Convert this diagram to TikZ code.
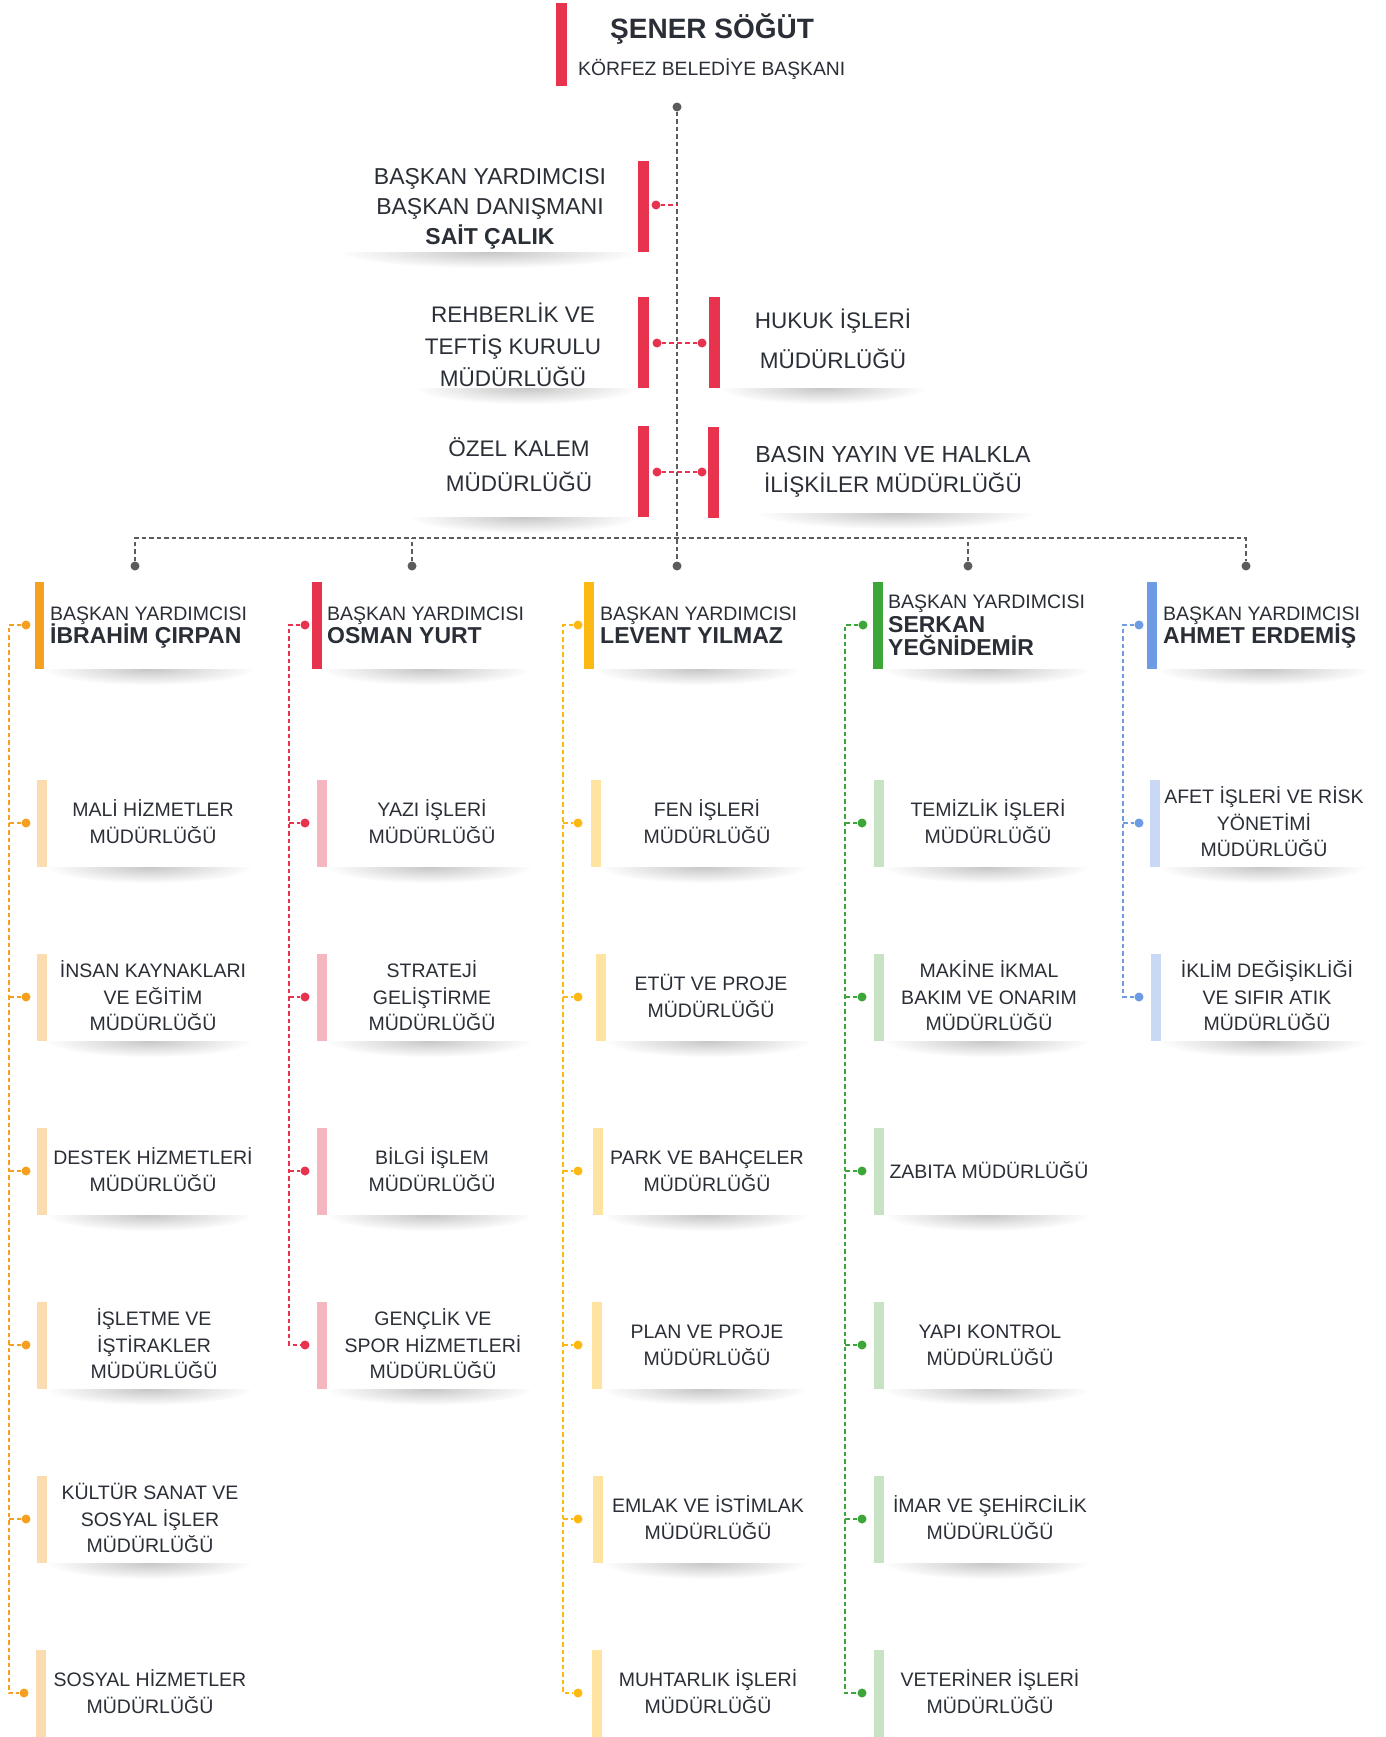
\documentclass[tikz,border=0pt]{standalone}
\usepackage{fontspec}
\setmainfont{Liberation Sans}
\usetikzlibrary{fadings,calc}
\definecolor{ink}{HTML}{2A2E36}
\definecolor{cred}{HTML}{E8334E}
\definecolor{lred}{HTML}{F5B6BF}
\definecolor{corg}{HTML}{F5A11F}
\definecolor{lorg}{HTML}{FBDCB0}
\definecolor{cyel}{HTML}{FDB913}
\definecolor{lyel}{HTML}{FFE4A1}
\definecolor{cgrn}{HTML}{3DA639}
\definecolor{lgrn}{HTML}{C7E3C4}
\definecolor{cblu}{HTML}{6E9CE4}
\definecolor{lblu}{HTML}{C9D8F4}
\definecolor{cgry}{HTML}{5C5C5C}
\colorlet{shc}{black!22}
\tikzfading[name=shfade, inner color=transparent!0, outer color=transparent!100]

\tikzset{
  bar/.style={rectangle, fill=#1, draw=none, inner sep=0pt, minimum width=10pt, minimum height=87pt},
  dotn/.style={circle, fill=#1, draw=none, inner sep=0pt, minimum size=9pt},
  conn/.style={draw=#1, line width=1.4pt, dash pattern=on 4.5pt off 3pt},
  txt/.style={text=ink, inner sep=0pt, font=\fontsize{19.5}{24}\selectfont},
  big/.style={text=ink, inner sep=0pt, font=\fontsize{22.5}{27}\selectfont},
  nm/.style={text=ink, inner sep=0pt, font=\fontsize{23}{27}\selectfont\bfseries},
}

% white box with soft shadow under its bottom edge
\newcommand\shbox[4]{%
  \pgfmathsetmacro\sxa{#1}\pgfmathsetmacro\sya{#2}%
  \pgfmathsetmacro\sxb{#3}\pgfmathsetmacro\syb{#4}%
  \pgfmathsetmacro\rx{(\sxb-\sxa)/2}\pgfmathsetmacro\cxx{(\sxa+\sxb)/2}%
  \fill[shc, path fading=shfade] (\cxx,\syb) ellipse [x radius=\rx pt, y radius=16pt];
  \fill[white] (\sxa,\sya) rectangle (\sxb,\syb);
}
% centred lines of text: name, cx, cy, n, lines
\newcommand\tl[5]{%
  \pgfmathsetmacro\fb{#3+7-(#4-1)*13.25}%
  \foreach \myl [count=\i] in {#5} {\node[txt, anchor=base] (#1-\i) at (#2, \fb+26.5*\i-26.5) {\myl};}
}
% sub box: name, bar left, cy, bar colour, dot colour, dot x, text cx, n, lines
\newcommand\sub[9]{%
  \shbox{#2+10}{#3-43}{#2+215}{#3+44}
  \node[bar=#4] (#1) at (#2+5,#3+0.5) {};
  \node[dotn=#5] (#1d) at (#6,#3) {};
  \tl{#1t}{#7}{#3}{#8}{#9}
}

\begin{document}
\begin{tikzpicture}[x=1pt,y=-1pt]
\useasboundingbox (0,0) rectangle (1386,1737);
\fill[white] (0,0) rectangle (1386,1737);

% ---- top ----
\node[bar=cred, minimum width=11pt, minimum height=83pt] (topbar) at (561.5,44.5) {};
\node[text=ink, inner sep=0pt, anchor=base west, font=\fontsize{28}{32}\selectfont\bfseries] (name0) at (610,39) {ŞENER SÖĞÜT};
\node[text=ink, inner sep=0pt, anchor=base west, font=\fontsize{19.3}{24}\selectfont] (title0) at (578,75) {KÖRFEZ BELEDİYE BAŞKANI};
\node[dotn=cgry] (topd) at (677,107) {};

% Box A
\shbox{340}{161}{638}{252}
\node[bar=cred, minimum width=11pt, minimum height=91pt] (A) at (643.5,206.5) {};
\node[text=ink, inner sep=0pt, anchor=base, font=\fontsize{23}{27}\selectfont] (At1) at (490,184) {BAŞKAN YARDIMCISI};
\node[text=ink, inner sep=0pt, anchor=base, font=\fontsize{23}{27}\selectfont] (At2) at (490,214) {BAŞKAN DANIŞMANI};
\node[nm, anchor=base] (At3) at (490,244) {SAİT ÇALIK};
\node[dotn=cred] (Ad) at (656,205) {};

% Box B
\shbox{415}{297}{638}{388}
\node[bar=cred, minimum width=11pt, minimum height=91pt] (B) at (643.5,342.5) {};
\node[big, anchor=base] (Bt1) at (513,322) {REHBERLİK VE};
\node[big, anchor=base] (Bt2) at (513,354) {TEFTİŞ KURULU};
\node[big, anchor=base] (Bt3) at (513,386) {MÜDÜRLÜĞÜ};
\node[dotn=cred] (Bd) at (657,343) {};

% Hukuk
\shbox{720}{297}{925}{388}
\node[bar=cred, minimum width=11pt, minimum height=91pt] (H) at (714.5,342) {};
\node[big, anchor=base] (Ht1) at (833,328) {HUKUK İŞLERİ};
\node[big, anchor=base] (Ht2) at (833,368) {MÜDÜRLÜĞÜ};
\node[dotn=cred] (Hd) at (702,343) {};

% Box C
\shbox{410}{426}{638}{517}
\node[bar=cred, minimum width=11pt, minimum height=91pt] (C) at (643.5,471.5) {};
\node[big, anchor=base] (Ct1) at (519,456) {ÖZEL KALEM};
\node[big, anchor=base] (Ct2) at (519,491) {MÜDÜRLÜĞÜ};
\node[dotn=cred] (Cd) at (657,472) {};

% Basin
\shbox{757}{427}{1035}{513}
\node[bar=cred, minimum width=11pt, minimum height=91pt] (P) at (713.5,472.5) {};
\node[text=ink, inner sep=0pt, anchor=base, font=\fontsize{23.2}{27}\selectfont] (Pt1) at (893,462) {BASIN YAYIN VE HALKLA};
\node[big, anchor=base] (Pt2) at (893,492) {İLİŞKİLER MÜDÜRLÜĞÜ};
\node[dotn=cred] (Pd) at (702,472) {};

% ---- trunk and branches ----
\node[dotn=cgry] (g1) at (135,566) {};
\node[dotn=cgry] (g2) at (412,566) {};
\node[dotn=cgry] (g3) at (677,566) {};
\node[dotn=cgry] (g4) at (968,566) {};
\node[dotn=cgry] (g5) at (1246,566) {};
\coordinate (hub) at (677,538);
\draw[conn=cgry] (topd) -- (g3);
\draw[conn=cgry] (g1) -- (g1 |- hub) -- (g5 |- hub) -- (g5);
\draw[conn=cgry] (g2) -- (g2 |- hub);
\draw[conn=cgry] (g4) -- (g4 |- hub);
\draw[conn=cred] (Ad) -- (Ad -| topd);
\draw[conn=cred] (Bd) -- (Bd -| topd);
\draw[conn=cred] (Cd) -- (Cd -| topd);
\draw[conn=cred] (Hd) -- (Hd -| topd);
\draw[conn=cred] (Pd) -- (Pd -| topd);

% ---- headers ----
\shbox{44}{582}{255}{669}
\node[bar=corg, minimum width=9pt] (h1) at (39.5,625.5) {};
\node[dotn=corg] (h1d) at (26,625) {};
\node[txt, anchor=base west] (h1t1) at (50,620) {BAŞKAN YARDIMCISI};
\node[nm, anchor=base west] (h1t2) at (50,643) {İBRAHİM ÇIRPAN};

\shbox{322}{582}{530}{669}
\node[bar=cred] (h2) at (317,625.5) {};
\node[dotn=cred] (h2d) at (305,625) {};
\node[txt, anchor=base west] (h2t1) at (327,620) {BAŞKAN YARDIMCISI};
\node[nm, anchor=base west] (h2t2) at (327,643) {OSMAN YURT};

\shbox{594}{582}{800}{669}
\node[bar=cyel] (h3) at (589,625.5) {};
\node[dotn=cyel] (h3d) at (578,625) {};
\node[txt, anchor=base west] (h3t1) at (600,620) {BAŞKAN YARDIMCISI};
\node[nm, anchor=base west] (h3t2) at (600,643) {LEVENT YILMAZ};

\shbox{883}{582}{1090}{669}
\node[bar=cgrn] (h4) at (878,625.5) {};
\node[dotn=cgrn] (h4d) at (863,625) {};
\node[txt, anchor=base west] (h4t1) at (888,608) {BAŞKAN YARDIMCISI};
\node[nm, anchor=base west] (h4t2) at (888,632) {SERKAN};
\node[nm, anchor=base west] (h4t3) at (888,655) {YEĞNİDEMİR};

\shbox{1157}{582}{1370}{669}
\node[bar=cblu] (h5) at (1152,625.5) {};
\node[dotn=cblu] (h5d) at (1139,625) {};
\node[txt, anchor=base west] (h5t1) at (1163,620) {BAŞKAN YARDIMCISI};
\node[nm, anchor=base west] (h5t2) at (1163,643) {AHMET ERDEMİŞ};

% ---- column 1 ----
\sub{c1r1}{37}{823}{lorg}{corg}{26}{153}{2}{MALİ HİZMETLER,MÜDÜRLÜĞÜ}
\sub{c1r2}{37}{997}{lorg}{corg}{26}{153}{3}{İNSAN KAYNAKLARI,VE EĞİTİM,MÜDÜRLÜĞÜ}
\sub{c1r3}{37}{1171}{lorg}{corg}{26}{153}{2}{DESTEK HİZMETLERİ,MÜDÜRLÜĞÜ}
\sub{c1r4}{37}{1345}{lorg}{corg}{26}{154}{3}{İŞLETME VE,İŞTİRAKLER,MÜDÜRLÜĞÜ}
\sub{c1r5}{37}{1519}{lorg}{corg}{26}{150}{3}{KÜLTÜR SANAT VE,SOSYAL İŞLER,MÜDÜRLÜĞÜ}
\sub{c1r6}{36}{1693}{lorg}{corg}{24}{150}{2}{SOSYAL HİZMETLER,MÜDÜRLÜĞÜ}

% ---- column 2 ----
\sub{c2r1}{317}{823}{lred}{cred}{305}{432}{2}{YAZI İŞLERİ,MÜDÜRLÜĞÜ}
\sub{c2r2}{317}{997}{lred}{cred}{305}{432}{3}{STRATEJİ,GELİŞTİRME,MÜDÜRLÜĞÜ}
\sub{c2r3}{317}{1171}{lred}{cred}{305}{432}{2}{BİLGİ İŞLEM,MÜDÜRLÜĞÜ}
\sub{c2r4}{317}{1345}{lred}{cred}{305}{433}{3}{GENÇLİK VE,SPOR HİZMETLERİ,MÜDÜRLÜĞÜ}

% ---- column 3 ----
\sub{c3r1}{591}{823}{lyel}{cyel}{578}{707}{2}{FEN İŞLERİ,MÜDÜRLÜĞÜ}
\sub{c3r2}{596}{997}{lyel}{cyel}{578}{711}{2}{ETÜT VE PROJE,MÜDÜRLÜĞÜ}
\sub{c3r3}{593}{1171}{lyel}{cyel}{578}{707}{2}{PARK VE BAHÇELER,MÜDÜRLÜĞÜ}
\sub{c3r4}{592}{1345}{lyel}{cyel}{578}{707}{2}{PLAN VE PROJE,MÜDÜRLÜĞÜ}
\sub{c3r5}{593}{1519}{lyel}{cyel}{578}{708}{2}{EMLAK VE İSTİMLAK,MÜDÜRLÜĞÜ}
\sub{c3r6}{592}{1693}{lyel}{cyel}{578}{708}{2}{MUHTARLIK İŞLERİ,MÜDÜRLÜĞÜ}

% ---- column 4 ----
\sub{c4r1}{874}{823}{lgrn}{cgrn}{862}{988}{2}{TEMİZLİK İŞLERİ,MÜDÜRLÜĞÜ}
\sub{c4r2}{874}{997}{lgrn}{cgrn}{862}{989}{3}{MAKİNE İKMAL,BAKIM VE ONARIM,MÜDÜRLÜĞÜ}
\sub{c4r3}{874}{1171}{lgrn}{cgrn}{862}{989}{1}{ZABITA MÜDÜRLÜĞÜ}
\sub{c4r4}{874}{1345}{lgrn}{cgrn}{862}{990}{2}{YAPI KONTROL,MÜDÜRLÜĞÜ}
\sub{c4r5}{874}{1519}{lgrn}{cgrn}{862}{990}{2}{İMAR VE ŞEHİRCİLİK,MÜDÜRLÜĞÜ}
\sub{c4r6}{874}{1693}{lgrn}{cgrn}{862}{990}{2}{VETERİNER İŞLERİ,MÜDÜRLÜĞÜ}

% ---- column 5 ----
\sub{c5r1}{1150}{823}{lblu}{cblu}{1139}{1264}{3}{AFET İŞLERİ VE RİSK,YÖNETİMİ,MÜDÜRLÜĞÜ}
\sub{c5r2}{1151}{997}{lblu}{cblu}{1139}{1267}{3}{İKLİM DEĞİŞİKLİĞİ,VE SIFIR ATIK,MÜDÜRLÜĞÜ}

% ---- column connectors ----
\coordinate (v1) at (9,625);
\draw[conn=corg] (h1d) -- (v1) |- (c1r6d);
\foreach \r in {1,...,5} \draw[conn=corg] (v1 |- c1r\r d) -- (c1r\r d);
\coordinate (v2) at (289,625);
\draw[conn=cred] (h2d) -- (v2) |- (c2r4d);
\foreach \r in {1,...,3} \draw[conn=cred] (v2 |- c2r\r d) -- (c2r\r d);
\coordinate (v3) at (563,625);
\draw[conn=cyel] (h3d) -- (v3) |- (c3r6d);
\foreach \r in {1,...,5} \draw[conn=cyel] (v3 |- c3r\r d) -- (c3r\r d);
\coordinate (v4) at (845,625);
\draw[conn=cgrn] (h4d) -- (v4) |- (c4r6d);
\foreach \r in {1,...,5} \draw[conn=cgrn] (v4 |- c4r\r d) -- (c4r\r d);
\coordinate (v5) at (1123,625);
\draw[conn=cblu] (h5d) -- (v5) |- (c5r2d);
\draw[conn=cblu] (v5 |- c5r1d) -- (c5r1d);
\end{tikzpicture}
\end{document}
